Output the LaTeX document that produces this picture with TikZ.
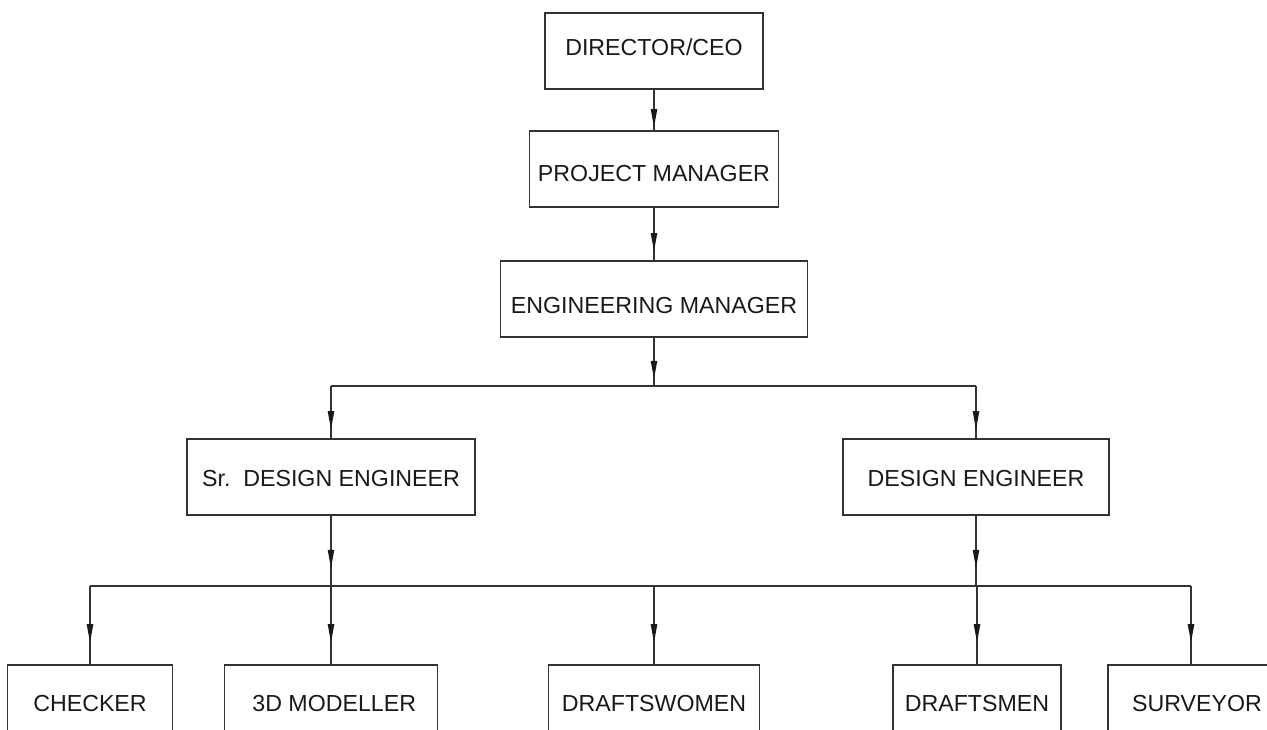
\documentclass[tikz,border=0pt]{standalone}
\usepackage{fontspec}
\setmainfont{Liberation Sans}
\usetikzlibrary{decorations.markings,calc}
\newcommand{\shifttext}[2]{\raisebox{#1}[0pt][0pt]{#2}}
\begin{document}
\begin{tikzpicture}[x=0.75pt,y=-0.75pt,
  box/.style={draw=black!80, line width=0.8pt, rectangle, inner sep=0pt,
    minimum height=57pt, font=\fontsize{17.4}{20}\selectfont, text=black!90},
  wire/.style={draw=black!80, line width=0.8pt},
  conn/.style={wire, postaction=decorate, decoration={markings,
    mark=at position 0.5 with {\fill[black!90] (12.75pt,0pt) -- (-0.75pt,2.5pt) -- (-0.75pt,-2.5pt) -- cycle;}}}]
\useasboundingbox (0,0) rectangle (1267,729);
\clip (0,0) rectangle (1267,729);
% top chain
\node[box, minimum width=218*0.75pt] (ceo) at (654,51) {\shifttext{-3.7pt}{DIRECTOR/CEO}};
\node[box, minimum width=249*0.75pt] (pm) at (654,169) {\shifttext{-9.6pt}{PROJECT MANAGER}};
\node[box, minimum width=307*0.75pt] (em) at (654,299) {\shifttext{-10.7pt}{ENGINEERING MANAGER}};
% second level
\node[box, minimum width=288*0.75pt] (sde) at (331,477) {\shifttext{-7pt}{Sr.\ \ DESIGN ENGINEER}};
\node[box, minimum width=266*0.75pt] (de) at (976,477) {\shifttext{-7pt}{DESIGN ENGINEER}};
% bottom level
\node[box, minimum width=165*0.75pt] (chk) at (90,703) {\shifttext{-6.4pt}{CHECKER}};
\node[box, minimum width=213*0.75pt] (mod) at (331,703) {\shifttext{-6.4pt}{\ 3D MODELLER}};
\node[box, minimum width=211*0.75pt] (dw) at (654,703) {\shifttext{-6.4pt}{DRAFTSWOMEN}};
\node[box, minimum width=168*0.75pt] (dm) at (977,703) {\shifttext{-6.4pt}{DRAFTSMEN}};
\node[box, minimum width=178*0.75pt] (sv) at (1197,703) {\shifttext{-6.4pt}{SURVEYOR}};
% buses
\coordinate (b1l) at (331,386);
\coordinate (b1r) at (976,386);
\coordinate (b2l) at (90,586);
\coordinate (b2r) at (1191,586);
\draw[wire] (b1l) -- (b1r);
\draw[wire] (b2l) -- (b2r);
% connectors
\draw[conn] (ceo.south) -- (ceo.south |- pm.north);
\draw[conn] (pm.south) -- (pm.south |- em.north);
\draw[conn] (em.south) -- (em.south |- b1l);
\draw[conn] (b1l) -- (b1l |- sde.north);
\draw[conn] (b1r) -- (b1r |- de.north);
\draw[conn] (sde.south) -- (sde.south |- b2l);
\draw[conn] (de.south) -- (de.south |- b2l);
\draw[conn] (b2l) -- (b2l |- chk.north);
\draw[conn] (sde.south |- b2l) -- (mod.north);
\draw[conn] (dw.north |- b2l) -- (dw.north);
\draw[conn] (dm.north |- b2l) -- (dm.north);
\draw[conn] (b2r) -- (b2r |- sv.north);
\end{tikzpicture}
\end{document}
